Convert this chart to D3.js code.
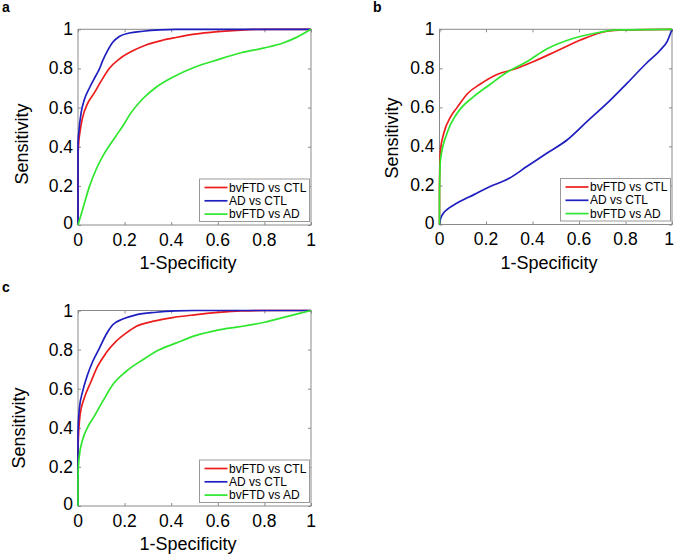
<!DOCTYPE html>
<html>
<head>
<meta charset="utf-8">
<script src="https://cdn.jsdelivr.net/npm/d3@7/dist/d3.min.js"></script>
<style>
  html, body { margin: 0; padding: 0; background: #fff; }
  svg { display: block; font-family: "Liberation Sans", Arial, sans-serif; }
</style>
</head>
<body>
<svg id="chart" width="675" height="558"></svg>
<script>
// ---------- data ----------
const panelLabels = ["a", "b", "c"];
const seriesNames = ["bvFTD vs CTL", "AD vs CTL", "bvFTD vs AD"];
const seriesColors = ["#ec1c1c", "#1f1fc0", "#2ee62e"];
const xTicks = [0, 0.2, 0.4, 0.6, 0.8, 1];
const yTicks = [0, 0.2, 0.4, 0.6, 0.8, 1];
const xTickLabels = ["0", "0.2", "0.4", "0.6", "0.8", "1"];
const yTickLabels = ["0", "0.2", "0.4", "0.6", "0.8", "1"];
const xTitle = "1-Specificity";
const yTitle = "Sensitivity";

// panel a
const aBvftdCtl = [[0,0],[0,0.35],[0.003,0.42],[0.009,0.48],[0.02,0.55],[0.041,0.62],[0.07,0.675],[0.099,0.735],[0.134,0.8],[0.177,0.848],[0.235,0.89],[0.292,0.92],[0.363,0.944],[0.42,0.958],[0.5,0.975],[0.6,0.988],[0.7,0.996],[0.8,1],[1,1]];
const aAdCtl = [[0,0],[0,0.42],[0.003,0.47],[0.013,0.57],[0.027,0.64],[0.049,0.7],[0.077,0.764],[0.092,0.798],[0.106,0.84],[0.127,0.891],[0.149,0.934],[0.177,0.963],[0.22,0.981],[0.278,0.99],[0.349,0.997],[0.42,1],[1,1]];
const aBvftdAd = [[0,0],[0.02,0.08],[0.05,0.2],[0.08,0.29],[0.11,0.36],[0.14,0.415],[0.163,0.455],[0.2,0.52],[0.22,0.56],[0.278,0.645],[0.335,0.704],[0.406,0.755],[0.5,0.806],[0.6,0.845],[0.7,0.88],[0.8,0.905],[0.88,0.93],[0.94,0.96],[1,1]];

// panel b
const bBvftdCtl = [[0,0],[0,0.2],[0.004,0.38],[0.019,0.47],[0.047,0.55],[0.076,0.6],[0.12,0.67],[0.176,0.72],[0.25,0.77],[0.32,0.795],[0.405,0.835],[0.506,0.89],[0.606,0.945],[0.72,0.99],[0.79,0.997],[1,1]];
const bAdCtl = [[0,0],[0.004,0.026],[0.015,0.055],[0.033,0.077],[0.076,0.11],[0.148,0.153],[0.22,0.196],[0.29,0.23],[0.377,0.298],[0.463,0.366],[0.55,0.434],[0.635,0.528],[0.72,0.62],[0.807,0.724],[0.89,0.826],[0.95,0.894],[0.98,0.94],[1,1]];
const bBvftdAd = [[0,0],[0,0.15],[0.004,0.33],[0.033,0.47],[0.076,0.57],[0.148,0.656],[0.22,0.72],[0.29,0.78],[0.377,0.835],[0.463,0.9],[0.577,0.954],[0.69,0.985],[0.76,0.997],[1,1]];

// panel c
const cBvftdCtl = [[0,0],[0,0.3],[0.009,0.467],[0.027,0.552],[0.056,0.637],[0.084,0.714],[0.12,0.782],[0.163,0.842],[0.206,0.884],[0.249,0.918],[0.32,0.944],[0.406,0.964],[0.5,0.978],[0.6,0.99],[0.7,0.998],[0.8,1],[1,1]];
const cAdCtl = [[0,0],[0,0.38],[0.006,0.5],[0.02,0.586],[0.041,0.671],[0.063,0.739],[0.092,0.807],[0.12,0.876],[0.149,0.927],[0.192,0.956],[0.249,0.978],[0.335,0.991],[0.42,0.998],[0.5,1],[1,1]];
const cBvftdAd = [[0,0],[0,0.15],[0.005,0.25],[0.02,0.34],[0.04,0.4],[0.07,0.46],[0.106,0.535],[0.149,0.62],[0.206,0.688],[0.278,0.748],[0.349,0.799],[0.42,0.833],[0.5,0.87],[0.6,0.9],[0.7,0.918],[0.8,0.94],[0.9,0.97],[1,1]];

const panelSeries = [
  [aBvftdCtl, aAdCtl, aBvftdAd],
  [bBvftdCtl, bAdCtl, bBvftdAd],
  [cBvftdCtl, cAdCtl, cBvftdAd]
];

// ---------- layout ----------
const W = 675;
const layouts = [
  { left: 78, top: 29.3, right: 311, bottom: 225, labelX: 2, labelY: 12, yTitleX: 22, yTitleY: 144, xTitleX: 188, xTitleY: 269 },
  { left: 439.5, top: 29.3, right: 672, bottom: 224.5, labelX: 373, labelY: 12, yTitleX: 392, yTitleY: 138, xTitleX: 549, xTitleY: 269 },
  { left: 78, top: 310.5, right: 311, bottom: 506, labelX: 2, labelY: 292, yTitleX: 19, yTitleY: 428, xTitleX: 188, xTitleY: 550 }
];

const svg = d3.select("#chart");
const frameColor = "#8a8a8a";

layouts.forEach((L, pi) => {
  const x = d3.scaleLinear().domain([0, 1]).range([L.left, L.right]);
  const y = d3.scaleLinear().domain([0, 1]).range([L.bottom, L.top]);
  const g = svg.append("g");

  // panel label
  g.append("text").attr("x", L.labelX).attr("y", L.labelY)
    .attr("font-size", 14).attr("font-weight", "bold").text(panelLabels[pi]);

  // frame
  g.append("rect").attr("x", x(0)).attr("y", y(1))
    .attr("width", x(1) - x(0)).attr("height", y(0) - y(1))
    .attr("fill", "none").attr("stroke", frameColor).attr("stroke-width", 1);

  // inward ticks via axes
  const tl = 3;
  const axB = d3.axisBottom(x).tickValues(xTicks).tickSize(-tl).tickFormat("");
  const axT = d3.axisTop(x).tickValues(xTicks).tickSize(-tl).tickFormat("");
  const axL = d3.axisLeft(y).tickValues(yTicks).tickSize(-tl).tickFormat("");
  const axR = d3.axisRight(y).tickValues(yTicks).tickSize(-tl).tickFormat("");
  [[axB, `translate(0,${y(0)})`], [axT, `translate(0,${y(1)})`],
   [axL, `translate(${x(0)},0)`], [axR, `translate(${x(1)},0)`]].forEach(([ax, tr]) => {
    const a = g.append("g").attr("transform", tr).call(ax);
    a.select(".domain").remove();
    a.selectAll("line").attr("stroke", frameColor);
  });

  // tick labels (kept inside the page edge)
  g.selectAll(null).data(xTicks).enter().append("text")
    .attr("x", d => Math.min(x(d), W - 6))
    .attr("y", y(0) + 20.5)
    .attr("text-anchor", "middle").attr("font-size", 17.5)
    .text((d, i) => xTickLabels[i]);
  g.selectAll(null).data(yTicks).enter().append("text")
    .attr("x", x(0) - 5).attr("y", d => y(d) + (d === 0 ? -2 : 0))
    .attr("text-anchor", "end").attr("dominant-baseline", "central").attr("font-size", 17.5)
    .text((d, i) => yTickLabels[i]);

  // axis titles
  g.append("text").attr("x", L.xTitleX).attr("y", L.xTitleY)
    .attr("text-anchor", "middle").attr("font-size", 18).text(xTitle);
  g.append("text").attr("transform", `translate(${L.yTitleX},${L.yTitleY}) rotate(-90)`)
    .attr("text-anchor", "middle").attr("dominant-baseline", "central")
    .attr("font-size", 18).text(yTitle);

  // curves
  const line = d3.line().x(d => x(d[0])).y(d => y(d[1])).curve(d3.curveMonotoneX);
  panelSeries[pi].forEach((s, si) => {
    g.append("path").datum(s).attr("d", line)
      .attr("fill", "none").attr("stroke", seriesColors[si])
      .attr("stroke-width", 1.7).attr("stroke-linejoin", "round");
  });

  // legend
  const lw = 110, lh = 42.5;
  const lx = x(1) - 1.5 - lw, ly = y(0) - 3.5 - lh;
  const lg = g.append("g").attr("transform", `translate(${lx},${ly})`);
  lg.append("rect").attr("width", lw).attr("height", lh)
    .attr("fill", "#fff").attr("stroke", "#999").attr("stroke-width", 1);
  seriesNames.forEach((name, si) => {
    const ry = 8.5 + si * 13.3;
    lg.append("line").attr("x1", 5).attr("x2", 28).attr("y1", ry).attr("y2", ry)
      .attr("stroke", seriesColors[si]).attr("stroke-width", 1.7);
    lg.append("text").attr("x", 29.5).attr("y", ry).attr("dominant-baseline", "central")
      .attr("font-size", 12).text(name);
  });
});
</script>
</body>
</html>
